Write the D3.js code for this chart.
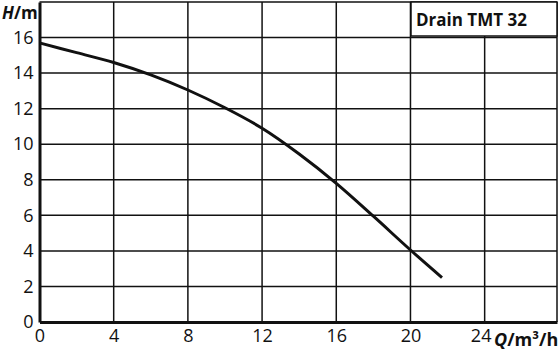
<!DOCTYPE html>
<html>
<head>
<meta charset="utf-8">
<script src="https://cdn.jsdelivr.net/npm/d3@7"></script>
<style>
  body { margin: 0; background: #fff; }
  svg text { font-family: "Open Sans", "DejaVu Sans", sans-serif; fill: #111; }
</style>
</head>
<body>
<div id="chart"></div>
<script>
// pump curve
var flow = [0, 2, 4, 6, 8, 10, 12, 14, 16, 18, 20, 21.7];
var head = [15.7, 15.15, 14.6, 13.9, 13.05, 12.05, 10.9, 9.45, 7.8, 5.95, 4.05, 2.5];
var xTicks = [0, 4, 8, 12, 16, 20, 24];
var yTicks = [0, 2, 4, 6, 8, 10, 12, 14, 16];
var title = "Drain TMT 32";

var width = 560, height = 350;
var pLeft = 39.5, pRight = 557, pTop = 2, pBottom = 322;

var svg = d3.select("#chart").append("svg")
    .attr("width", width)
    .attr("height", height);

var x = d3.scaleLinear().domain([0, 27.9]).range([pLeft, pRight]);
var y = d3.scaleLinear().domain([0, 18]).range([pBottom, pTop]);

// grid
svg.append("g").selectAll("line")
    .data(xTicks.slice(1))
    .enter().append("line")
    .attr("x1", function (d) { return x(d); })
    .attr("x2", function (d) { return x(d); })
    .attr("y1", pTop).attr("y2", pBottom)
    .attr("stroke", "#111").attr("stroke-width", 1.5);

svg.append("g").selectAll("line")
    .data(yTicks.slice(1))
    .enter().append("line")
    .attr("x1", pLeft).attr("x2", pRight)
    .attr("y1", function (d) { return y(d); })
    .attr("y2", function (d) { return y(d); })
    .attr("stroke", "#111").attr("stroke-width", 1.5);

// frame
svg.append("line").attr("x1", pLeft).attr("x2", pRight).attr("y1", pTop).attr("y2", pTop)
    .attr("stroke", "#111").attr("stroke-width", 1.5);
svg.append("line").attr("x1", pRight).attr("x2", pRight).attr("y1", pTop).attr("y2", pBottom)
    .attr("stroke", "#111").attr("stroke-width", 1.5);

// axes
var xAxis = d3.axisBottom(x).tickValues(xTicks).tickSize(0).tickPadding(7);
var yAxis = d3.axisLeft(y).tickValues(yTicks).tickSize(0).tickPadding(6);

var gx = svg.append("g").attr("transform", "translate(0," + pBottom + ")").call(xAxis);
var gy = svg.append("g").attr("transform", "translate(" + pLeft + ",0)").call(yAxis);
[gx, gy].forEach(function (g) {
    g.select(".domain").attr("stroke", "#111").attr("stroke-width", 3);
    g.selectAll("text").style("font-size", "18px").attr("fill", "#111")
        .style("font-family", "'Open Sans', sans-serif");
});
gx.selectAll(".tick text").filter(function (d) { return d === 24; }).attr("dx", -4);

// axis titles
var ht = svg.append("text").attr("x", 2).attr("y", 19).style("font-size", "17px").style("font-weight", "bold");
ht.append("tspan").style("font-style", "italic").text("H");
ht.append("tspan").text("/m");

var qt = svg.append("text").attr("x", 494).attr("y", 346).style("font-size", "18px").style("font-weight", "bold");
qt.append("tspan").style("font-style", "italic").text("Q");
qt.append("tspan").text("/m³/h");

// curve
var pts = flow.map(function (d, i) { return [d, head[i]]; });
svg.append("path")
    .datum(pts)
    .attr("fill", "none")
    .attr("stroke", "#111")
    .attr("stroke-width", 3)
    .attr("d", d3.line()
        .x(function (d) { return x(d[0]); })
        .y(function (d) { return y(d[1]); })
        .curve(d3.curveCatmullRom.alpha(0.5)));

// label box
svg.append("rect")
    .attr("x", 411).attr("y", pTop)
    .attr("width", pRight - 411).attr("height", 34)
    .attr("fill", "#fff").attr("stroke", "#111").attr("stroke-width", 1.5);
svg.append("text").attr("x", 416).attr("y", 26)
    .style("font-size", "17px").style("font-weight", "bold")
    .text(title);
</script>
</body>
</html>
